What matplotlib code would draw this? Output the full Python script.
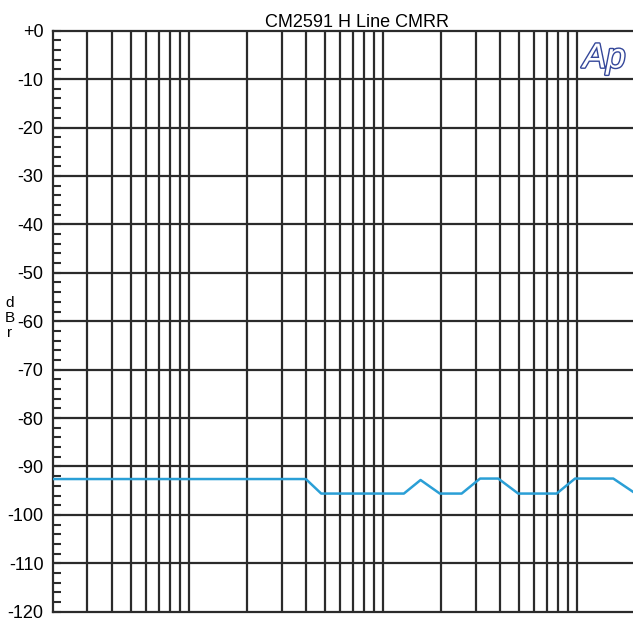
import numpy as np
import matplotlib.pyplot as plt
import matplotlib.patheffects as pe
from matplotlib.ticker import FixedLocator, NullFormatter, MultipleLocator

# sweep data
freq = [20, 400, 480, 1280, 1560, 1960, 2540, 3160, 3920, 4970, 7840, 9750, 15350, 20000]
cmrr = [-92.6, -92.6, -95.6, -95.6, -92.8, -95.6, -95.6, -92.5, -92.5, -95.6, -95.6, -92.5, -92.5, -95.6]

y_ticks = list(range(0, -121, -10))
y_labels = ['+0'] + [str(v) for v in y_ticks[1:]]
title = "CM2591 H Line CMRR"

plt.rcParams['font.family'] = ['Liberation Sans', 'DejaVu Sans']

fig = plt.figure(figsize=(6.33, 6.27), dpi=100)
ax = fig.add_axes([53.3 / 633, 15.3 / 627, 582.3 / 633, 581 / 627])

grid_col = '#2b2b2b'
ax.set_xscale('log')
ax.set_xlim(20, 20000)
ax.set_ylim(-120, 0)

# vertical grid at 20,30,...,90,100,200,...
xgrid = [m * 10 ** d for d in range(1, 5) for m in range(1, 10) if 20 <= m * 10 ** d <= 20000]
for xv in xgrid[1:]:
    ax.axvline(xv, color=grid_col, lw=1.6, zorder=1)
for yv in y_ticks[1:-1]:
    ax.axhline(yv, color=grid_col, lw=1.6, zorder=1)

ax.plot(freq, cmrr, color='#2a9fd6', lw=1.8, zorder=3)

ax.xaxis.set_major_locator(FixedLocator([]))
ax.xaxis.set_minor_locator(FixedLocator([]))
ax.xaxis.set_minor_formatter(NullFormatter())
ax.set_yticks(y_ticks)
ax.set_yticklabels(y_labels)
ax.yaxis.set_minor_locator(MultipleLocator(2))
ax.tick_params(axis='y', which='major', direction='in', length=6, width=1.5,
               color=grid_col, labelsize=13, pad=7)
ax.tick_params(axis='y', which='minor', direction='in', length=6, width=1.5, color=grid_col)
ax.tick_params(axis='x', which='both', length=0)
for s in ax.spines.values():
    s.set_color(grid_col)
    s.set_linewidth(1.6)

fig.text(357 / 633, 1 - 27 / 627, title, ha='center', va='baseline', fontsize=13)
fig.text(10 / 633, 1 - 318 / 627, 'd\nB\nr', ha='center', va='center', fontsize=11, linespacing=1.05)

# Ap logo, outlined letters
fig.text(583 / 633, 1 - 58 / 627, 'Ap', ha='left', va='center', fontsize=25, style='italic',
         color='white', path_effects=[pe.withStroke(linewidth=2, foreground='#34479a')])

fig.savefig('out.png', dpi=100)
